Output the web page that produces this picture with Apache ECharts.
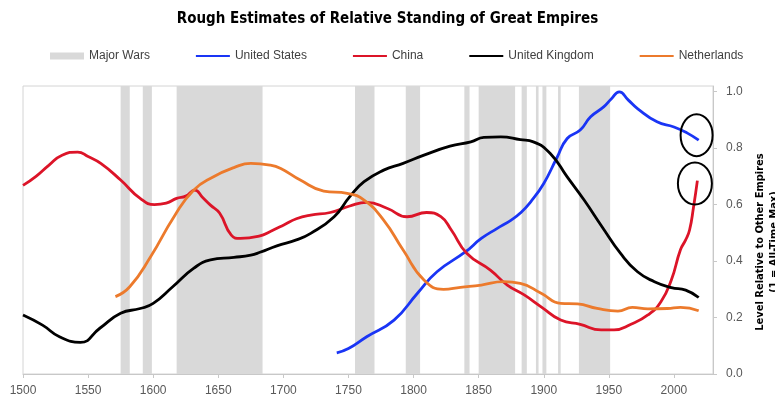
<!DOCTYPE html>
<html>
<head>
<meta charset="utf-8">
<script src="https://cdn.jsdelivr.net/npm/echarts@6/dist/echarts.min.js"></script>
<style>
html, body { margin: 0; padding: 0; background: #fff; }
#main { width: 775px; height: 400px; }
</style>
</head>
<body>
<div id="main"></div>
<script>
// values (year, level relative to all-time max)
var usYears = [1741, 1750, 1764, 1785, 1803, 1818, 1840, 1852, 1864, 1875, 1882, 1890, 1900, 1910, 1918, 1928, 1936, 1946, 1952, 1958, 1965, 1972, 1987, 2000, 2010, 2019];
var usVals  = [0.075, 0.09, 0.132, 0.191, 0.286, 0.362, 0.433, 0.48, 0.515, 0.545, 0.57, 0.61, 0.675, 0.765, 0.834, 0.864, 0.911, 0.946, 0.975, 0.999, 0.97, 0.94, 0.893, 0.875, 0.854, 0.828];

var cnYears = [1500, 1510, 1520, 1530, 1542, 1550, 1560, 1575, 1590, 1601, 1610, 1618, 1625, 1632, 1638, 1644, 1651, 1660, 1667, 1682, 1690, 1700, 1710, 1721, 1736, 1751, 1764, 1780, 1795, 1810, 1821, 1829, 1841, 1859, 1872, 1885, 1898, 1913, 1928, 1944, 1954, 1967, 1980, 1990, 1998, 2005, 2009, 2012, 2015, 2018];
var cnVals  = [0.668, 0.70, 0.74, 0.775, 0.786, 0.77, 0.745, 0.687, 0.622, 0.60, 0.605, 0.622, 0.63, 0.651, 0.625, 0.598, 0.57, 0.492, 0.48, 0.489, 0.505, 0.527, 0.55, 0.563, 0.572, 0.595, 0.608, 0.586, 0.557, 0.572, 0.557, 0.51, 0.427, 0.368, 0.315, 0.28, 0.238, 0.191, 0.176, 0.156, 0.156, 0.176, 0.209, 0.256, 0.333, 0.44, 0.475, 0.51, 0.59, 0.685];

var ukYears = [1500, 1515, 1528, 1544, 1559, 1575, 1590, 1600, 1615, 1631, 1644, 1662, 1675, 1682, 1695, 1710, 1721, 1739, 1751, 1762, 1777, 1792, 1808, 1828, 1844, 1854, 1867, 1882, 1892, 1905, 1918, 1931, 1945, 1959, 1972, 1985, 1998, 2009, 2019];
var ukVals  = [0.209, 0.173, 0.132, 0.112, 0.162, 0.215, 0.232, 0.25, 0.309, 0.374, 0.404, 0.413, 0.421, 0.431, 0.454, 0.475, 0.498, 0.557, 0.628, 0.681, 0.722, 0.746, 0.775, 0.807, 0.822, 0.838, 0.84, 0.83, 0.822, 0.781, 0.698, 0.616, 0.52, 0.427, 0.362, 0.327, 0.306, 0.297, 0.271];

var nlYears = [1571, 1582, 1598, 1616, 1631, 1646, 1662, 1675, 1690, 1698, 1713, 1731, 1749, 1762, 1777, 1792, 1808, 1823, 1836, 1852, 1869, 1882, 1898, 1913, 1926, 1941, 1957, 1968, 1980, 1995, 2005, 2019];
var nlVals  = [0.274, 0.309, 0.415, 0.557, 0.651, 0.698, 0.731, 0.746, 0.74, 0.728, 0.687, 0.648, 0.64, 0.616, 0.545, 0.439, 0.333, 0.30, 0.307, 0.315, 0.327, 0.321, 0.286, 0.25, 0.248, 0.232, 0.223, 0.236, 0.231, 0.232, 0.236, 0.224];

// grey bands
var warStart = [1575, 1592, 1618, 1755, 1794, 1839, 1850, 1883, 1894, 1899, 1911, 1927];
var warEnd   = [1582, 1599, 1684, 1770, 1805, 1843, 1878, 1887, 1896, 1902, 1913, 1951];

var yTicks = [0, 0.2, 0.4, 0.6, 0.8, 1.0];

function pairs(xs, ys) {
	var out = [];
	for (var i = 0; i < xs.length; i++) {
		out.push([xs[i], ys[i]]);
	}
	return out;
}

var wars = [];
for (var i = 0; i < warStart.length; i++) {
	wars.push([{ xAxis: warStart[i] }, { xAxis: warEnd[i] }]);
}

var dom = document.getElementById('main');
var myChart = echarts.init(dom, null, { renderer: 'canvas' });

function lineSeries(name, color, data) {
	return {
		name: name,
		type: 'line',
		data: data,
		smooth: true,
		symbol: 'none',
		z: 3,
		itemStyle: { color: color },
		lineStyle: { color: color, width: 2.8 }
	};
}

// legend entry with only the line, no dot
function lineItem(name) {
	return { name: name, itemStyle: { opacity: 0 } };
}

var option = {
	animation: false,
	backgroundColor: '#fff',
	title: {
		text: 'Rough Estimates of Relative Standing of Great Empires',
		left: 'center',
		top: 7,
		textStyle: {
			fontFamily: "'DejaVu Sans Condensed', sans-serif",
			fontWeight: 'bold',
			fontSize: 15,
			color: '#000'
		}
	},
	legend: {
		left: 45,
		top: 45,
		itemWidth: 34,
		itemHeight: 7,
		itemGap: 45,
		textStyle: { fontFamily: "'Liberation Sans', sans-serif", fontSize: 12, color: '#404040' },
		data: [
			{ name: 'Major Wars', icon: 'rect', itemStyle: { color: '#d9d9d9', opacity: 1 } },
			lineItem('United States'), lineItem('China'), lineItem('United Kingdom'), lineItem('Netherlands')
		]
	},
	grid: {
		left: 23,
		right: 62,
		top: 86,
		bottom: 26,
		show: true,
		borderColor: '#d4d4d4',
		borderWidth: 1
	},
	xAxis: {
		type: 'value',
		min: 1500,
		max: 2030,
		interval: 50,
		axisLine: { show: true, lineStyle: { color: '#c8c8c8' } },
		axisTick: { show: true, length: 4, lineStyle: { color: '#c8c8c8' } },
		splitLine: { show: false },
		axisLabel: {
			margin: 11,
			showMaxLabel: false,
			formatter: function (v) { return String(v); },
			fontFamily: "'Liberation Sans', sans-serif",
			fontSize: 12,
			color: '#595959'
		}
	},
	yAxis: {
		type: 'value',
		position: 'right',
		min: 0,
		max: 1.02,
		axisLine: { show: true, lineStyle: { color: '#c8c8c8' } },
		axisTick: { show: true, length: 4, customValues: yTicks, lineStyle: { color: '#c8c8c8' } },
		splitLine: { show: false },
		axisLabel: {
			margin: 13,
			customValues: yTicks,
			formatter: function (v) { return v.toFixed(1); },
			fontFamily: "'Liberation Sans', sans-serif",
			fontSize: 12,
			color: '#595959'
		}
	},
	graphic: [{
		type: 'text',
		x: 767,
		y: 242,
		rotation: Math.PI / 2,
		style: {
			text: 'Level Relative to Other Empires\n(1 = All-Time Max)',
			font: "bold 11px 'DejaVu Sans Condensed', sans-serif",
			textAlign: 'center',
			textVerticalAlign: 'middle',
			lineHeight: 14,
			fill: '#000'
		}
	}],
	series: [
		{
			name: 'Major Wars',
			type: 'line',
			data: [],
			symbol: 'none',
			z: 1,
			itemStyle: { color: '#d9d9d9' },
			lineStyle: { color: '#d9d9d9' },
			markArea: {
				silent: true,
				itemStyle: { color: '#d9d9d9' },
				data: wars
			}
		},
		lineSeries('United States', '#1a35f5', pairs(usYears, usVals)),
		lineSeries('China', '#dc1428', pairs(cnYears, cnVals)),
		lineSeries('United Kingdom', '#000000', pairs(ukYears, ukVals)),
		lineSeries('Netherlands', '#ec7a2c', pairs(nlYears, nlVals))
	]
};

myChart.setOption(option);

// circles round the latest US and China values
var p1 = myChart.convertToPixel({ gridIndex: 0 }, [2017.4, 0.846]);
var p2 = myChart.convertToPixel({ gridIndex: 0 }, [2016.1, 0.675]);
myChart.setOption({
	graphic: [option.graphic[0], {
		type: 'ellipse',
		shape: { cx: p1[0], cy: p1[1], rx: 16, ry: 21 },
		style: { fill: 'none', stroke: '#000', lineWidth: 2 },
		z: 10
	}, {
		type: 'ellipse',
		shape: { cx: p2[0], cy: p2[1], rx: 17, ry: 21 },
		style: { fill: 'none', stroke: '#000', lineWidth: 2 },
		z: 10
	}]
});
</script>
</body>
</html>
